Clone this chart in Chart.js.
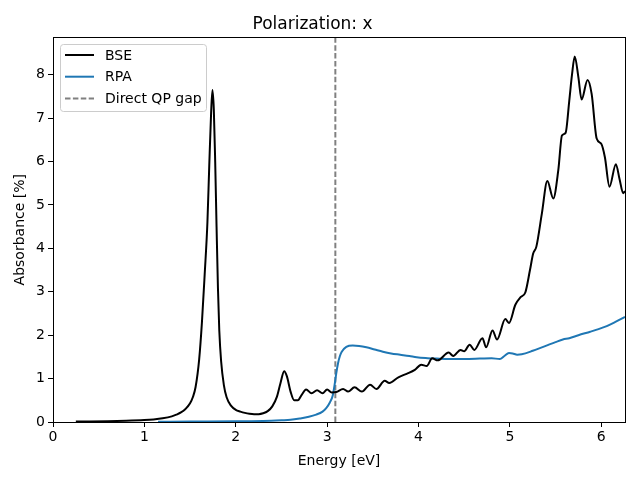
<!DOCTYPE html>
<html>
<head>
<meta charset="utf-8">
<script src="https://cdn.jsdelivr.net/npm/chart.js@4"></script>
<style>
  html, body { margin: 0; padding: 0; background: #fff; }
  #wrap { width: 640px; height: 480px; }
</style>
</head>
<body>
<div id="wrap"><canvas id="absChart" width="640" height="480"></canvas></div>
<script>
// BSE absorbance
const bseEnergy = [0.25, 0.4, 0.6, 0.8, 1.0, 1.1, 1.2, 1.3, 1.35, 1.4, 1.45, 1.5, 1.53, 1.56, 1.6, 1.63, 1.66, 1.69, 1.71, 1.73, 1.745, 1.76, 1.775, 1.79, 1.805, 1.82, 1.84, 1.87, 1.9, 1.95, 2.0, 2.05, 2.1, 2.15, 2.2, 2.25, 2.3, 2.35, 2.4, 2.45, 2.49, 2.53, 2.56, 2.6, 2.64, 2.68, 2.72, 2.77, 2.83, 2.89, 2.95, 3.0, 3.05, 3.1, 3.175, 3.23, 3.3, 3.38, 3.47, 3.54, 3.63, 3.68, 3.78, 3.87, 3.96, 4.03, 4.09, 4.15, 4.21, 4.33, 4.38, 4.46, 4.5, 4.56, 4.61, 4.7, 4.74, 4.81, 4.86, 4.95, 4.99, 5.06, 5.12, 5.17, 5.22, 5.255, 5.29, 5.35, 5.41, 5.475, 5.53, 5.57, 5.61, 5.65, 5.68, 5.71, 5.75, 5.785, 5.85, 5.895, 5.95, 6.0, 6.04, 6.09, 6.16, 6.2, 6.24, 6.26];
const bseAbs = [0.01, 0.012, 0.018, 0.028, 0.045, 0.06, 0.085, 0.13, 0.17, 0.22, 0.3, 0.43, 0.57, 0.8, 1.45, 2.3, 3.4, 4.6, 5.9, 7.1, 7.65, 7.2, 6.0, 4.5, 3.1, 2.1, 1.4, 0.85, 0.57, 0.37, 0.28, 0.24, 0.21, 0.19, 0.18, 0.18, 0.2, 0.25, 0.36, 0.58, 0.9, 1.17, 1.05, 0.7, 0.5, 0.5, 0.62, 0.75, 0.66, 0.73, 0.66, 0.75, 0.68, 0.69, 0.76, 0.7, 0.8, 0.7, 0.86, 0.76, 0.95, 0.9, 1.03, 1.11, 1.2, 1.32, 1.29, 1.47, 1.42, 1.6, 1.52, 1.66, 1.63, 1.78, 1.66, 1.93, 1.72, 2.11, 1.9, 2.37, 2.28, 2.7, 2.88, 2.99, 3.5, 3.88, 4.04, 4.8, 5.55, 5.15, 5.8, 6.6, 6.66, 7.4, 8.0, 8.42, 7.94, 7.43, 7.88, 7.56, 6.53, 6.41, 6.1, 5.42, 5.94, 5.6, 5.27, 5.32];

// RPA absorbance
const rpaEnergy = [1.15, 1.5, 2.0, 2.3, 2.5, 2.6, 2.7, 2.8, 2.88, 2.95, 2.99, 3.03, 3.06, 3.085, 3.1, 3.12, 3.14, 3.16, 3.21, 3.28, 3.35, 3.43, 3.52, 3.61, 3.7, 3.8, 3.9, 3.98, 4.1, 4.2, 4.34, 4.5, 4.67, 4.8, 4.89, 4.94, 4.99, 5.03, 5.08, 5.13, 5.25, 5.4, 5.5, 5.58, 5.65, 5.75, 5.88, 5.97, 6.06, 6.15, 6.26];
const rpaAbs = [0.005, 0.01, 0.015, 0.025, 0.04, 0.05, 0.08, 0.12, 0.17, 0.24, 0.32, 0.45, 0.6, 0.9, 1.12, 1.36, 1.52, 1.62, 1.73, 1.76, 1.75, 1.72, 1.67, 1.62, 1.58, 1.55, 1.52, 1.49, 1.47, 1.46, 1.45, 1.45, 1.46, 1.47, 1.45, 1.52, 1.59, 1.58, 1.55, 1.56, 1.64, 1.76, 1.84, 1.9, 1.93, 2.0, 2.08, 2.14, 2.21, 2.3, 2.42];

const qpGap = 3.09;
const xMax = 6.26;
const yMax = 8.86;
const xTicks = [0, 1, 2, 3, 4, 5, 6];
const yTicks = [0, 1, 2, 3, 4, 5, 6, 7, 8];

const font = '"DejaVu Sans", sans-serif';

function toPoints(xs, ys) {
  return xs.map((x, i) => ({ x: x, y: ys[i] }));
}

// matplotlib style legend inside the axes, upper left
const innerLegend = {
  id: "innerLegend",
  afterDraw(chart) {
    const ctx = chart.ctx;
    const a = chart.chartArea;
    const x = Math.round(a.left) + 7, y = Math.round(a.top) + 7, w = 146, h = 67;
    ctx.save();
    ctx.fillStyle = "rgba(255,255,255,0.8)";
    ctx.strokeStyle = "#cccccc";
    ctx.lineWidth = 1;
    ctx.beginPath();
    ctx.roundRect(x + 0.5, y + 0.5, w, h, 3);
    ctx.fill();
    ctx.stroke();
    chart.data.datasets.forEach((ds, i) => {
      const cy = y + 11 + i * 21.7;
      ctx.strokeStyle = ds.borderColor;
      ctx.lineWidth = ds.borderWidth;
      ctx.setLineDash(ds.borderDash || []);
      ctx.beginPath();
      ctx.moveTo(x + 5, cy);
      ctx.lineTo(x + 34, cy);
      ctx.stroke();
      ctx.setLineDash([]);
      ctx.fillStyle = "#000";
      ctx.font = "14px " + font;
      ctx.textBaseline = "middle";
      ctx.fillText(ds.label, x + 45, cy + 1);
    });
    ctx.restore();
  },
};

// top and right spines
const frame = {
  id: "frame",
  afterDatasetsDraw(chart) {
    const ctx = chart.ctx;
    const a = chart.chartArea;
    ctx.save();
    ctx.strokeStyle = "#000";
    ctx.lineWidth = 1;
    ctx.strokeRect(Math.round(a.left) + 0.5, Math.round(a.top) + 0.5, Math.round(a.right - a.left), Math.round(a.bottom - a.top));
    ctx.restore();
  },
};

new Chart(document.getElementById("absChart").getContext("2d"), {
  type: "line",
  data: {
    datasets: [
      {
        label: "BSE",
        data: toPoints(bseEnergy, bseAbs),
        borderColor: "#000000",
        borderWidth: 2,
        pointRadius: 0,
        cubicInterpolationMode: "monotone",
      },
      {
        label: "RPA",
        data: toPoints(rpaEnergy, rpaAbs),
        borderColor: "#1f77b4",
        borderWidth: 2,
        pointRadius: 0,
        cubicInterpolationMode: "monotone",
      },
      {
        label: "Direct QP gap",
        data: [{ x: qpGap, y: 0 }, { x: qpGap, y: yMax }],
        borderColor: "#808080",
        borderWidth: 2,
        borderDash: [5.5, 2.4],
        pointRadius: 0,
      },
    ],
  },
  options: {
    responsive: false,
    animation: false,
    layout: { padding: { right: 15, left: 0 } },
    plugins: {
      legend: { display: false },
      tooltip: { enabled: false },
      title: {
        display: true,
        text: "Polarization: x",
        color: "#000",
        font: { family: font, size: 17, weight: "normal", lineHeight: 1.2 },
        padding: { top: 14, bottom: 3 },
      },
    },
    scales: {
      x: {
        type: "linear",
        min: 0,
        max: xMax,
        afterBuildTicks: (s) => { s.ticks = xTicks.map((v) => ({ value: v })); },
        afterFit: (s) => { s.height = 58; },
        grid: { drawOnChartArea: false, drawTicks: true, tickLength: 5, color: "#000" },
        border: { color: "#000", width: 1 },
        ticks: { color: "#000", font: { family: font, size: 14 }, padding: 2, maxRotation: 0 },
        title: { display: true, text: "Energy [eV]", color: "#000", font: { family: font, size: 14 }, padding: { top: 2, bottom: 10 } },
      },
      y: {
        type: "linear",
        min: 0,
        max: yMax,
        afterBuildTicks: (s) => { s.ticks = yTicks.map((v) => ({ value: v })); },
        afterFit: (s) => { s.width = 53; },
        grid: { drawOnChartArea: false, drawTicks: true, tickLength: 5, color: "#000" },
        border: { color: "#000", width: 1 },
        ticks: { color: "#000", font: { family: font, size: 14 }, padding: 3 },
        title: { display: true, text: "Absorbance [%]", color: "#000", font: { family: font, size: 14 }, padding: { top: 12, bottom: 4 } },
      },
    },
  },
  plugins: [frame, innerLegend],
});
</script>
</body>
</html>
